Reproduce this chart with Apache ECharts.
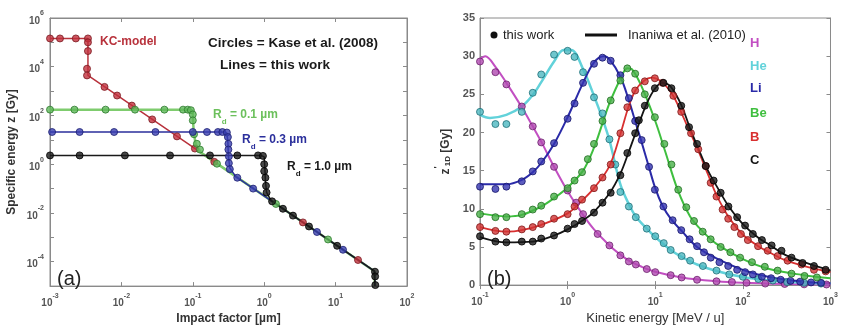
<!DOCTYPE html>
<html>
<head>
<meta charset="utf-8">
<script src="https://cdn.jsdelivr.net/npm/echarts@6/dist/echarts.min.js"></script>
<style>
html, body { margin: 0; background: #fff; }
#chart { width: 841px; height: 330px; }
</style>
</head>
<body>
<div id="chart"></div>
<script>
// ---- panel (a): impact factor [um] vs specific energy z [Gy] ----
var kcLine = [[0.001,1.45e5],[0.0034,1.45e5],[0.0034,4.4e3],[35,4.1e-5],[35.5,1e-5]];
var kcDots = [[0.001,1.45e5],[0.00138,1.45e5],[0.0023,1.45e5],[0.0034,1.45e5],[0.0034,1.0e5],[0.0034,4.4e4],[0.0033,8.3e3],[0.0033,4.4e3],
  [0.0058,1490],[0.0087,660],[0.014,255],[0.027,69],[0.06,13.9],[0.107,4.4],[0.2,1.25],[3.49,0.0041],[20.6,1.18e-4]];
var rd01Line = [[0.001,174],[0.09,174],[0.098,160],[0.1,110],[0.103,20],[0.11,6.5],[0.13,3.0],[35,4.1e-5],[35.5,1e-5]];
var rd01Dots = [[0.001,174],[0.0022,174],[0.006,174],[0.0155,174],[0.04,174],[0.073,174],[0.085,174],[0.094,165],[0.1,110],[0.1,63],
  [0.104,17],[0.114,6.9],[0.126,4.0],[0.218,1.05],[1.46,0.0235],[7.83,8.2e-4]];
var rd03Line = [[0.001,21],[0.28,21],[0.3,19],[0.31,8],[0.315,2.2],[0.33,0.7],[0.4,0.31],[35,4.1e-5],[35.5,1e-5]];
var rd03Dots = [[0.00107,21],[0.0026,21],[0.0079,21],[0.03,21],[0.1,21],[0.158,21],[0.225,21],[0.26,21],[0.3,20],[0.31,13],[0.315,6.9],
  [0.315,4.0],[0.32,2.1],[0.32,1.1],[0.33,0.63],[0.42,0.28],[0.7,0.1],[5.48,0.00166],[12.7,3.1e-4]];
var rd10Line = [[0.001,2.3],[0.9,2.3],[1.0,2.0],[1.02,0.8],[1.04,0.2],[1.08,0.07],[1.25,0.032],[35,4.1e-5],[35.5,1e-5]];
var rd10Dots = [[0.001,2.3],[0.0026,2.3],[0.0112,2.3],[0.048,2.3],[0.174,2.3],[0.42,2.3],[0.82,2.3],[0.96,2.2],[1.0,1.0],[1.0,0.52],
  [1.04,0.28],[1.06,0.13],[1.08,0.069],[1.29,0.03],[1.83,0.0149],[2.53,0.0078],[4.24,0.0028],[10.5,4.5e-4],[35.6,3.9e-5],[35.8,2.5e-5],[36,1.1e-5]];

// ---- panel (b): kinetic energy [MeV/u] vs z*1D [Gy] ----
var hDots = [[0.1,29.3],[0.15,27.9],[0.2,26.3],[0.3,23.4],[0.4,20.8],[0.5,18.7],[0.7,15.5],[1.0,12.4],[1.25,10.8],[1.5,9.3],[2.2,6.7],[3,5.2],
  [4,3.9],[5,3.1],[6,2.7],[8,2.1],[10,1.7],[15,1.3],[20,1.0],[30,0.7],[50,0.5],[75,0.4],[110,0.3],[180,0.2],[300,0.15],[500,0.1],[900,0.08]];
var hLine = [[0.1,29.6],[0.115,30.0],[0.15,28.6],[0.2,26.5],[0.3,23.3],[0.4,20.8],[0.5,18.8],[0.7,15.5],[1,12.3],[1.5,9.2],[2,7.3],[3,5.2],
  [4,4.0],[5,3.2],[7,2.4],[10,1.75],[20,1.0],[50,0.5],[100,0.3],[300,0.15],[1000,0.08]];
var heDots = [[0.1,22.7],[0.15,21.1],[0.2,21.1],[0.3,22.7],[0.4,25.2],[0.5,27.6],[0.7,30.2],[1.0,30.7],[1.2,29.9],[1.5,27.9],[2,24.6],[2.5,22.5],
  [3,19.1],[3.5,15.8],[4,12.2],[5,10.3],[6,8.9],[8,7.4],[10,6.4],[12.5,5.5],[15,4.6],[20,3.8],[25,3.2],[35,2.5],[50,1.9],[70,1.4],[100,1.1],
  [150,0.8],[220,0.6],[320,0.4],[500,0.3],[780,0.2]];
var heLine = [[0.1,22.3],[0.13,21.9],[0.2,22.3],[0.3,23.4],[0.4,24.9],[0.5,26.6],[0.7,29.3],[0.9,30.8],[1.1,30.8],[1.5,28.3],[2,24.8],[2.5,21.8],
  [3,19],[4,13.2],[5,10.6],[6,9],[8,7.4],[10,6.3],[15,4.6],[20,3.7],[30,2.7],[50,1.85],[100,1.05],[200,0.6],[500,0.3],[1000,0.17]];
var liDots = [[0.1,12.9],[0.15,12.6],[0.2,12.9],[0.3,13.6],[0.4,14.9],[0.5,16.2],[0.7,18.6],[1.0,21.8],[1.2,23.8],[1.5,26.5],[2,29],[2.5,29.8],
  [3.1,29.4],[4,27.5],[5,24.5],[5.9,21.5],[7,19],[8.5,15.5],[9.9,12.5],[12.4,10.3],[15.8,8.5],[19.8,7.2],[24.7,6.0],[30,5.1],[36,4.3],[43,3.6],
  [54,3.0],[68,2.5],[86,2.0],[106,1.7],[130,1.4],[165,1.1],[210,0.9],[270,0.7],[350,0.55],[450,0.45],[600,0.35],[780,0.3]];
var liLine = [[0.1,13.2],[0.2,13.2],[0.3,13.8],[0.4,14.8],[0.5,16],[0.7,18.5],[1,22],[1.5,26.5],[2,29.2],[2.6,30],[3,29.6],[4,27.3],[5,24.2],
  [6,21.2],[7,18.7],[8.5,15.4],[10,12.7],[12,10.5],[15,8.7],[20,7.1],[30,5.0],[50,3.5],[100,2.0],[200,1.05],[500,0.45],[1000,0.25]];
var beDots = [[0.1,9.3],[0.15,8.9],[0.2,8.9],[0.3,9.3],[0.4,9.9],[0.5,10.4],[0.7,11.6],[1.0,12.7],[1.2,13.7],[1.46,14.8],[1.7,16.5],[2.0,18.5],
  [2.5,21.5],[3.1,24.2],[4.0,26.8],[4.8,28.4],[5.9,27.7],[7.6,25.0],[9.9,22.0],[12.7,18.5],[15.3,15.8],[18.3,12.5],[22.6,10.2],[27.7,8.4],
  [34.8,7.0],[42.9,6.0],[55.8,5.0],[72,4.3],[93,3.6],[127,3.0],[178,2.4],[249,1.9],[359,1.5],[505,1.2],[700,1.0]];
var beLine = [[0.1,9.4],[0.2,9.0],[0.3,9.2],[0.5,10.3],[0.7,11.4],[1,12.8],[1.5,15],[2,18],[2.5,21.2],[3,23.8],[4,27],[4.8,28.4],[5.5,28.2],
  [7,26],[10,21.5],[13,17.5],[18,12.5],[25,9],[35,7],[50,5.4],[100,3.4],[200,2.1],[500,1.3],[1000,0.9]];
var bDots = [[0.1,7.6],[0.15,7.1],[0.2,7.0],[0.3,7.3],[0.4,7.6],[0.5,8.0],[0.7,8.7],[1.0,9.3],[1.2,10.3],[1.46,11.2],[2.0,12.7],[2.5,14.1],
  [3.1,15.8],[4.0,19.9],[4.8,23.3],[5.9,25.5],[7.6,26.7],[9.9,27.1],[12.1,26.5],[16.1,24.8],[19.8,22.7],[25.6,19.9],[31,17.8],[37.7,15.6],
  [42.9,13.4],[50,11.6],[58.7,9.9],[68,8.7],[80,7.6],[95,6.7],[114,5.9],[149,5.1],[192,4.5],[249,3.8],[324,3.2],[467,2.7],[648,2.0],[880,1.8]];
var bLine = [[0.1,7.6],[0.2,7.0],[0.3,7.2],[0.5,7.9],[1,9.4],[1.5,11.2],[2,12.7],[3,15.6],[4,19.8],[5,23.5],[6,25.6],[7.5,26.8],[9,27.2],
  [12,26.6],[16,24.8],[20,22.5],[25,20],[30,18],[40,14.5],[50,11.8],[70,8.8],[100,6.6],[150,5.1],[200,4.3],[300,3.3],[500,2.5],[1000,1.7]];
var cDots = [[0.1,6.4],[0.15,5.7],[0.2,5.6],[0.3,5.7],[0.4,5.7],[0.5,6.1],[0.7,6.5],[1.0,7.4],[1.2,8.0],[1.46,8.4],[2.0,9.5],[2.5,10.8],
  [3.1,12.1],[4.0,14.4],[4.8,17.3],[5.9,19.9],[6.5,21.6],[7.6,23.5],[9.9,25.8],[12.4,26.5],[15.3,25.8],[19.8,23.5],[24.3,20.7],[30,18.5],
  [37.7,15.6],[46.4,13.7],[55.8,12.1],[68.4,10.3],[86,8.9],[106,7.8],[130,6.7],[165,5.9],[213,5.2],[276,4.5],[359,3.6],[480,2.9],[648,2.5],[880,2.0]];
var cLine = [[0.1,6.3],[0.2,5.6],[0.4,5.7],[0.7,6.5],[1,7.3],[1.5,8.5],[2,9.6],[3,12],[4,14.6],[5,17.5],[6,20],[8,23.8],[10,25.8],[12,26.5],
  [15,26],[20,23.5],[25,20.5],[30,18.3],[40,15],[50,13],[70,10.2],[100,8],[150,6.2],[200,5.3],[300,4],[500,3],[1000,1.9]];

var zTicks = [0, 5, 10, 15, 20, 25, 30, 35];

var labelColor = '#555';
var frameColor = '#8a8a8a';
var supRich = {
  b: { fontSize: 10, fontWeight: 'bold', color: labelColor, verticalAlign: 'bottom', lineHeight: 16, fontFamily: 'Liberation Sans' },
  s: { fontSize: 7, fontWeight: 'bold', color: labelColor, verticalAlign: 'top', lineHeight: 16, fontFamily: 'Liberation Sans' }
};
function powLabel(v) {
  var e = Math.round(Math.log(v) / Math.LN10);
  return '{b|10}{s|' + e + '}';
}
function evenPowLabel(v) {
  var e = Math.round(Math.log(v) / Math.LN10);
  return e % 2 === 0 ? powLabel(v) : '';
}

function logAxis(grid, min, max, pos, showLabel, fmt) {
  return {
    type: 'log', logBase: 10, gridIndex: grid, min: min, max: max, interval: 1, position: pos,
    axisLine: { show: true, lineStyle: { color: frameColor } },
    axisTick: { show: true, inside: true, length: 4, lineStyle: { color: frameColor } },
    axisLabel: { show: showLabel, formatter: fmt, rich: supRich, margin: 6 },
    splitLine: { show: false }
  };
}

var nameStyle = { fontSize: 12, fontWeight: 'bold', color: '#333', fontFamily: 'Liberation Sans' };

var xAxes = [
  logAxis(0, 1e-3, 1e2, 'bottom', true, powLabel),
  logAxis(0, 1e-3, 1e2, 'top', false),
  logAxis(1, 1e-1, 1e3, 'bottom', true, powLabel),
  logAxis(1, 1e-1, 1e3, 'top', false)
];
xAxes[0].name = 'Impact factor [\u00b5m]';
xAxes[0].nameLocation = 'middle'; xAxes[0].nameGap = 24; xAxes[0].nameTextStyle = nameStyle;
xAxes[2].name = 'Kinetic energy [MeV / u]';
xAxes[2].nameLocation = 'middle'; xAxes[2].nameGap = 24;
xAxes[2].nameTextStyle = { fontSize: 13, color: '#333', fontFamily: 'Liberation Sans' };

var yAxes = [
  logAxis(0, 1e-5, 1e6, 'left', true, evenPowLabel),
  logAxis(0, 1e-5, 1e6, 'right', false),
  {
    type: 'value', gridIndex: 1, min: zTicks[0], max: zTicks[zTicks.length - 1], interval: 5, position: 'left',
    name: '{z|z}{p|\'}{s|1D}{n| [Gy]}', nameLocation: 'middle', nameGap: 28, nameRotate: 90,
    nameTextStyle: { rich: {
      z: { fontSize: 12, fontWeight: 'bold', color: '#333', verticalAlign: 'bottom', lineHeight: 16 },
      p: { fontSize: 9, fontWeight: 'bold', color: '#333', verticalAlign: 'top', lineHeight: 16 },
      s: { fontSize: 8, fontWeight: 'bold', color: '#333', verticalAlign: 'bottom', lineHeight: 19 },
      n: { fontSize: 12, fontWeight: 'bold', color: '#333', verticalAlign: 'bottom', lineHeight: 16 }
    } },
    axisLine: { show: true, lineStyle: { color: frameColor } },
    axisTick: { show: true, inside: true, length: 4, lineStyle: { color: frameColor } },
    axisLabel: { fontSize: 11, fontWeight: 'bold', color: labelColor, margin: 5, fontFamily: 'Liberation Sans' },
    splitLine: { show: false }
  },
  {
    type: 'value', gridIndex: 1, min: zTicks[0], max: zTicks[zTicks.length - 1], interval: 5, position: 'right',
    axisLine: { show: true, lineStyle: { color: frameColor } },
    axisTick: { show: true, inside: true, length: 4, lineStyle: { color: frameColor } },
    axisLabel: { show: false }, splitLine: { show: false }
  }
];
yAxes[0].name = 'Specific energy z [Gy]';
yAxes[0].nameLocation = 'middle'; yAxes[0].nameGap = 32; yAxes[0].nameTextStyle = nameStyle;

function lineS(data, color, width, xi, yi, smooth) {
  return { type: 'line', data: data, xAxisIndex: xi, yAxisIndex: yi, showSymbol: false, smooth: smooth || false,
    lineStyle: { color: color, width: width }, silent: true, z: 2 };
}
function dotS(data, fill, edge, xi, yi) {
  return { type: 'scatter', data: data, xAxisIndex: xi, yAxisIndex: yi, symbolSize: 7,
    itemStyle: { color: fill, borderColor: edge, borderWidth: 1 }, z: 3 };
}

var series = [
  lineS(kcLine, '#b8323c', 1.5, 0, 0),
  lineS(rd01Line, '#7fcc6e', 2.5, 0, 0),
  lineS(rd03Line, '#2b2f9c', 1.5, 0, 0),
  lineS(rd10Line, '#1a1a1a', 1.5, 0, 0),
  dotS(kcDots, '#c0303c', '#7a1a20', 0, 0),
  dotS(rd01Dots, '#5fb85a', '#2d7a2d', 0, 0),
  dotS(rd03Dots, '#3a3fb0', '#1c1f70', 0, 0),
  dotS(rd10Dots, '#1a1a1a', '#000', 0, 0),

  lineS(hLine, '#c24fc2', 2, 2, 2, 0.35),
  lineS(heLine, '#62d2da', 2.5, 2, 2, 0.35),
  lineS(liLine, '#2a2aa8', 2, 2, 2, 0.35),
  lineS(beLine, '#3fbf3f', 2, 2, 2, 0.35),
  lineS(bLine, '#d83030', 1.8, 2, 2, 0.35),
  lineS(cLine, '#151515', 1.8, 2, 2, 0.35),
  dotS(hDots, '#b048b0', '#6d226d', 2, 2),
  dotS(heDots, '#4cb8c0', '#1f6f78', 2, 2),
  dotS(liDots, '#3535b0', '#16166a', 2, 2),
  dotS(beDots, '#49b049', '#226d22', 2, 2),
  dotS(bDots, '#d23535', '#801818', 2, 2),
  dotS(cDots, '#1a1a1a', '#000', 2, 2)
];

function txt(x, y, text, size, color, weight, extra) {
  var st = { text: text, fontSize: size, fill: color, fontWeight: weight || 'bold', fontFamily: 'Liberation Sans',
    textVerticalAlign: 'middle' };
  if (extra) { for (var k in extra) st[k] = extra[k]; }
  return { type: 'text', x: x, y: y, style: st, z: 10 };
}
function rdRich(color) {
  return { rich: {
    a: { fontSize: 12, fontWeight: 'bold', fill: color, color: color, verticalAlign: 'middle', lineHeight: 16 },
    d: { fontSize: 8, fontWeight: 'bold', fill: color, color: color, verticalAlign: 'bottom', lineHeight: 22 }
  } };
}

var graphics = [
  txt(100, 42, 'KC-model', 12, '#b8323c'),
  txt(208, 43, 'Circles = Kase et al. (2008)', 13.5, '#1a1a1a'),
  txt(220, 65, 'Lines = this work', 13.5, '#1a1a1a'),
  txt(213, 115, '{a|R}{d|d}{a| = 0.1 \u00b5m}', 12, '#6cc05c', 'bold', rdRich('#6cc05c')),
  txt(242, 140, '{a|R}{d|d}{a| = 0.3 \u00b5m}', 12, '#2b2f9c', 'bold', rdRich('#2b2f9c')),
  txt(287, 167, '{a|R}{d|d}{a| = 1.0 \u00b5m}', 12, '#1a1a1a', 'bold', rdRich('#1a1a1a')),
  txt(57, 279, '(a)', 20, '#222', 'normal'),
  txt(487, 279, '(b)', 20, '#222', 'normal'),
  { type: 'circle', shape: { cx: 494, cy: 35, r: 3.5 }, style: { fill: '#111' }, z: 10 },
  txt(503, 35, 'this work', 13, '#222', 'normal'),
  { type: 'line', shape: { x1: 585, y1: 35, x2: 617, y2: 35 }, style: { stroke: '#111', lineWidth: 3 }, z: 10 },
  txt(628, 35, 'Inaniwa et al. (2010)', 13, '#222', 'normal'),
  txt(750, 43, 'H', 13, '#c24fc2'),
  txt(750, 66, 'He', 13, '#62d2da'),
  txt(750, 88, 'Li', 13, '#2a2aa8'),
  txt(750, 113, 'Be', 13, '#3fbf3f'),
  txt(750, 137, 'B', 13, '#d83030'),
  txt(750, 160, 'C', 13, '#151515')
];

var myChart = echarts.init(document.getElementById('chart'));
myChart.setOption({
  animation: false,
  backgroundColor: '#fff',
  grid: [
    { left: 50, top: 18, width: 357, height: 275, show: true, borderColor: frameColor, borderWidth: 1 },
    { left: 480, top: 18, width: 357, height: 275, show: true, borderColor: frameColor, borderWidth: 1 }
  ],
  xAxis: xAxes,
  yAxis: yAxes,
  series: series,
  graphic: graphics
});
</script>
</body>
</html>
